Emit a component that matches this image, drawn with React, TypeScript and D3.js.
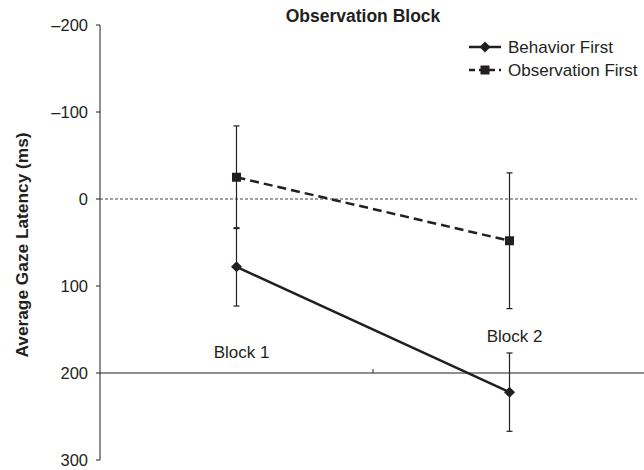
import React from 'react';
import * as d3 from 'd3';

// data
const blocks = ['Block 1', 'Block 2'];
const seriesNames = ['Behavior First', 'Observation First'];
const behaviorMean = [78, 222];
const behaviorErr = [45, 45];
const observationMean = [-25, 48];
const observationErr = [59, 78];
const yTicks = [-200, -100, 0, 100, 200, 300];
const blockLabelValue = [183, 164];

const W = 644;
const H = 470;
const ink = '#231f20';
const font = 'Arial, "Liberation Sans", Helvetica, sans-serif';

export default function App() {
  const x = d3.scaleBand<string>().domain(blocks).range([100, 646]).padding(0);
  const y = d3.scaleLinear().domain([-200, 300]).range([25, 460]);
  const cx = (b: string) => (x(b) as number) + x.bandwidth() / 2;

  const series = [
    { name: seriesNames[0], mean: behaviorMean, err: behaviorErr, dash: null, marker: 'diamond' },
    { name: seriesNames[1], mean: observationMean, err: observationErr, dash: '9,5', marker: 'square' },
  ];

  const line = d3
    .line<number>()
    .x((_, i) => cx(blocks[i]))
    .y((d) => y(d));

  const marker = (kind: string, px: number, py: number, key: string) =>
    kind === 'diamond' ? (
      <path key={key} d={`M${px},${py - 5.5}L${px + 5.5},${py}L${px},${py + 5.5}L${px - 5.5},${py}Z`} fill={ink} />
    ) : (
      <rect key={key} x={px - 4.5} y={py - 4.5} width={9} height={9} fill={ink} />
    );

  const fmt = (v: number) => (v < 0 ? '\u2013' + Math.abs(v) : String(v));

  return (
    <svg width={W} height={H} style={{ position: 'absolute', left: 0, top: 0, background: '#fff' }} fontFamily={font}>
      {/* title */}
      <text x={363} y={22} textAnchor="middle" fontSize={17.5} fontWeight="bold" fill={ink}>
        Observation Block
      </text>

      {/* y axis */}
      <line x1={100} x2={100} y1={y(-200)} y2={y(300)} stroke={ink} strokeWidth={1} />
      {yTicks.map((t) => (
        <g key={t}>
          <line x1={96} x2={100} y1={y(t)} y2={y(t)} stroke={ink} />
          <text x={88} y={y(t)} dy="0.35em" textAnchor="end" fontSize={16.5} fill={ink}>
            {fmt(t)}
          </text>
        </g>
      ))}
      <text
        transform={`translate(28,245) rotate(-90)`}
        textAnchor="middle"
        fontSize={17.3}
        fontWeight="bold"
        fill={ink}
      >
        Average Gaze Latency (ms)
      </text>

      {/* zero reference line */}
      <line x1={100} x2={637} y1={y(0)} y2={y(0)} stroke="#444" strokeWidth={1} strokeDasharray="3,2" />

      {/* x axis at 200 */}
      <line x1={100} x2={646} y1={y(200)} y2={y(200)} stroke={ink} strokeWidth={1} />
      <line x1={x('Block 2')} x2={x('Block 2')} y1={y(200) - 4} y2={y(200)} stroke={ink} />
      {blocks.map((b, i) => (
        <text key={b} x={cx(b) + 5} y={y(blockLabelValue[i])} textAnchor="middle" fontSize={17} fill={ink}>
          {b}
        </text>
      ))}

      {/* error bars */}
      {series.map((s) =>
        blocks.map((b, i) => {
          const px = cx(b);
          const lo = y(s.mean[i] - s.err[i]);
          const hi = y(s.mean[i] + s.err[i]);
          return (
            <g key={s.name + b}>
              <line x1={px} x2={px} y1={lo} y2={hi} stroke={ink} strokeWidth={1.2} />
              <line x1={px - 3} x2={px + 3} y1={lo} y2={lo} stroke={ink} strokeWidth={1.2} />
              <line x1={px - 3} x2={px + 3} y1={hi} y2={hi} stroke={ink} strokeWidth={1.2} />
            </g>
          );
        })
      )}

      {/* lines + markers */}
      {series.map((s) => (
        <g key={s.name}>
          <path d={line(s.mean) || ''} fill="none" stroke={ink} strokeWidth={2.5} strokeDasharray={s.dash || undefined} />
          {s.mean.map((v, i) => marker(s.marker, cx(blocks[i]), y(v), s.name + i))}
        </g>
      ))}

      {/* legend */}
      {series.map((s, i) => {
        const ly = 47 + i * 23;
        return (
          <g key={'leg' + s.name}>
            <line x1={469} x2={501} y1={ly} y2={ly} stroke={ink} strokeWidth={2.5} strokeDasharray={s.dash ? '6,4' : undefined} />
            {marker(s.marker, 485, ly, 'lm' + i)}
            <text x={508} y={ly + 6} fontSize={17} fill={ink}>
              {s.name}
            </text>
          </g>
        );
      })}
    </svg>
  );
}
